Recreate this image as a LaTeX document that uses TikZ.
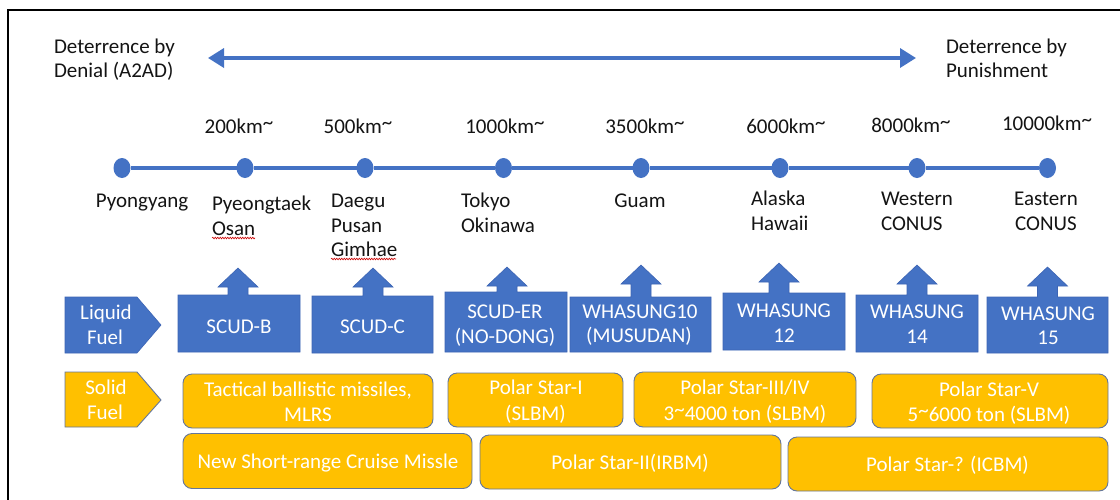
\documentclass[tikz,border=0pt]{standalone}
\usepackage{fontspec}
\setmainfont{Carlito}
\usetikzlibrary{arrows.meta,shapes.geometric,decorations.pathmorphing}
\definecolor{oblue}{HTML}{4472C4}
\definecolor{oorange}{HTML}{FFC000}
\definecolor{oedge}{RGB}{100,118,155}
\definecolor{bedge}{RGB}{60,100,180}
\definecolor{ink}{RGB}{20,20,20}
\newcommand{\hitilde}{\raisebox{3.5pt}{\textasciitilde}}
\newcommand{\upbox}[6]{%
  \path[bshape] (#1,#3) -- ({#5-10},#3) -- ({#5-10},{#6+19}) -- ({#5-20},{#6+19}) -- (#5,#6) -- ({#5+20},{#6+19}) -- ({#5+10},{#6+19}) -- ({#5+10},#3) -- (#2,#3) -- (#2,#4) -- (#1,#4) -- cycle;}
\begin{document}
\begin{tikzpicture}[x=1pt,y=-1pt,
 every node/.style={inner sep=0pt, outer sep=0pt},
 txt/.style={font=\fontsize{21}{25}\selectfont, text=ink, anchor=base},
 txtl/.style={txt, anchor=base west},
 wtxt/.style={font=\fontsize{21}{25}\selectfont, text=white, anchor=base},
 dotn/.style={ellipse, fill=oblue, minimum width=17pt, minimum height=20pt},
 bshape/.style={fill=oblue, draw=bedge, line width=0.6pt},
 oshape/.style={fill=oorange, draw=oedge, line width=0.9pt},
 obox/.style={oshape, rounded corners=9pt},
 tline/.style={oblue, line width=3.3pt},
 squig/.style={red!80!black, line width=0.6pt, decorate, decoration={snake, amplitude=0.8pt, segment length=2.5pt}}
]
\useasboundingbox (0,0) rectangle (1120,499);
\fill[white] (0,0) rectangle (1120,499);
% frame
\draw[line width=2pt] (8,500) -- (8,10) -- (1121,10);

% deterrence arrow
\coordinate (aL) at (208,58);
\coordinate (aR) at (916,58);
\draw[oblue, line width=3.5pt, {Triangle[length=16pt,width=19pt]}-{Triangle[length=16pt,width=19pt]}] (aL) -- (aR);
\node[txtl] (dl1) at (54,53) {Deterrence by};
\node[txtl] (dl2) at (54,77.5) {Denial (A2AD)};
\node[txtl] (dp1) at (946,53) {Deterrence by};
\node[txtl] (dp2) at (946,77) {Punishment};

% distances
\node[txt] (k1) at (239,133) {200km\hitilde};
\node[txt] (k2) at (358,133) {500km\hitilde};
\node[txt] (k3) at (505,133) {1000km\hitilde};
\node[txt] (k4) at (645,133) {3500km\hitilde};
\node[txt] (k5) at (786,133) {6000km\hitilde};
\node[txt] (k6) at (911,132) {8000km\hitilde};
\node[txt] (k7) at (1047,130) {10000km\hitilde};

% timeline
\node[dotn] (d0) at (122,168) {};
\node[dotn] (d1) at (245,168) {};
\node[dotn] (d2) at (365,168) {};
\node[dotn] (d3) at (503.5,168) {};
\node[dotn] (d4) at (641,168) {};
\node[dotn] (d5) at (780,168) {};
\node[dotn] (d6) at (917,168) {};
\node[dotn] (d7) at (1047.5,168) {};
\foreach \a/\b in {d0/d1,d1/d2,d2/d3,d3/d4,d4/d5,d5/d6,d6/d7}
  \draw[tline] (\a) -- (\b);

% places
\node[txt] (c0) at (142,207) {Pyongyang};
\node[txtl] (c1a) at (212,210) {Pyeongtaek};
\node[txtl] (c1b) at (212,235) {Osan};
\node[txtl] (c2a) at (331,207) {Daegu};
\node[txtl] (c2b) at (331,232) {Pusan};
\node[txtl] (c2c) at (331,256) {Gimhae};
\node[txtl] (c3a) at (461,207) {Tokyo};
\node[txtl] (c3b) at (461,232) {Okinawa};
\node[txt] (c4) at (640,207) {Guam};
\node[txtl] (c5a) at (751,205) {Alaska};
\node[txtl] (c5b) at (751,230) {Hawaii};
\node[txtl] (c6a) at (881,205) {Western};
\node[txtl] (c6b) at (881,230) {CONUS};
\node[txt] (c7a) at (1046,205) {Eastern};
\node[txt] (c7b) at (1046,230) {CONUS};
\draw[squig] (c1b.base west) ++(0,3) -- ++(43,0);
\draw[squig] (c2c.base west) ++(0,3) -- ++(65,0);

% liquid fuel row
\path[bshape] (65,297) -- (137,297) -- (161,325) -- (137,353) -- (65,353) -- cycle;
\node[wtxt] (lq1) at (106,319) {Liquid};
\node[wtxt] (lq2) at (105,344) {Fuel};
\upbox{178}{300}{295}{352}{238}{268}
\upbox{312}{433}{296}{353}{373}{268}
\upbox{445}{567}{292}{352}{507}{267}
\upbox{570}{711}{297}{352}{641}{265}
\upbox{723}{845}{293}{350}{779}{263}
\upbox{856}{978}{295}{352}{917}{265}
\upbox{987}{1108}{297}{353}{1047.5}{267}
\node[wtxt] (m1) at (239,333) {SCUD-B};
\node[wtxt] (m2) at (372.5,333) {SCUD-C};
\node[wtxt] (m3a) at (505,318) {SCUD-ER};
\node[wtxt] (m3b) at (505,343) {(NO-DONG)};
\node[wtxt] (m4a) at (640,318) {WHASUNG10};
\node[wtxt] (m4b) at (639,342) {(MUSUDAN)};
\node[wtxt] (m5a) at (784,317) {WHASUNG};
\node[wtxt] (m5b) at (784,342) {12};
\node[wtxt] (m6a) at (917,318) {WHASUNG};
\node[wtxt] (m6b) at (917,343) {14};
\node[wtxt] (m7a) at (1048,320) {WHASUNG};
\node[wtxt] (m7b) at (1048,344) {15};

% solid fuel row
\path[oshape] (65,372) -- (137,372) -- (161,400) -- (137,427) -- (65,427) -- cycle;
\node[wtxt] (sf1) at (106,394) {Solid};
\node[wtxt] (sf2) at (105,419) {Fuel};
\node[obox, minimum width=250pt, minimum height=54pt] (o1) at (308,401) {};
\node[obox, minimum width=175pt, minimum height=54pt] (o2) at (535.5,400) {};
\node[obox, minimum width=222pt, minimum height=55pt] (o3) at (745,399.5) {};
\node[obox, minimum width=236pt, minimum height=54pt] (o4) at (990,401) {};
\node[obox, minimum width=289pt, minimum height=55pt] (o5) at (327.5,461) {};
\node[obox, minimum width=301pt, minimum height=54pt] (o6) at (630.5,462) {};
\node[obox, minimum width=320pt, minimum height=54pt] (o7) at (948,464) {};
\node[wtxt] (s1a) at (308,396) {Tactical ballistic missiles,};
\node[wtxt] (s1b) at (308,421) {MLRS};
\node[wtxt] (s2a) at (536,394) {Polar Star-I};
\node[wtxt] (s2b) at (535.5,420) {(SLBM)};
\node[wtxt] (s3a) at (745,394) {Polar Star-III/IV};
\node[wtxt] (s3b) at (745,420) {3\hitilde4000 ton (SLBM)};
\node[wtxt] (s4a) at (989,396) {Polar Star-V};
\node[wtxt] (s4b) at (989,421) {5\hitilde6000 ton (SLBM)};
\node[wtxt] (s5) at (328,468) {New Short-range Cruise Missle};
\node[wtxt] (s6) at (630,469) {Polar Star-II(IRBM)};
\node[wtxt] (s7) at (947.5,471) {Polar Star-? (ICBM)};
\end{tikzpicture}
\end{document}
